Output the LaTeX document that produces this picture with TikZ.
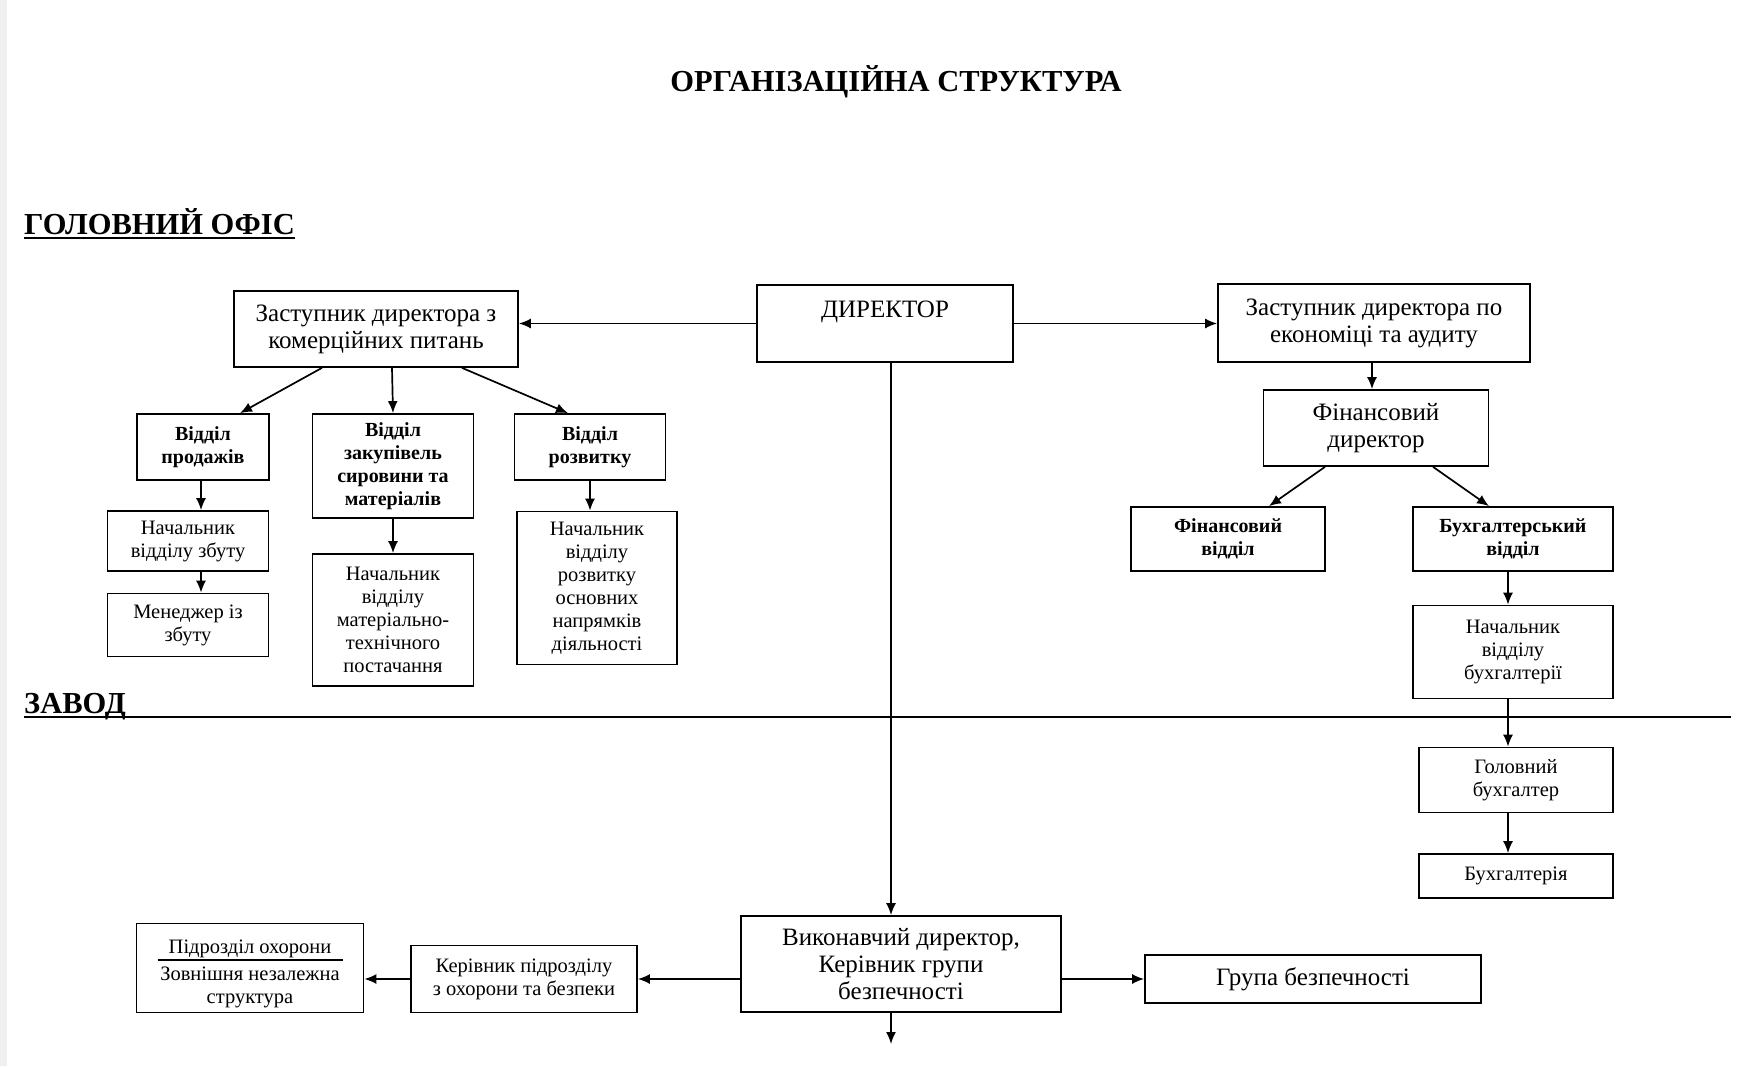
\documentclass[tikz,border=0pt]{standalone}
\usepackage{fontspec}
\setmainfont{Liberation Serif}
\usetikzlibrary{shapes,arrows.meta,positioning}
\tikzstyle{block} = [rectangle, draw, line width=1.7pt, text centered, align=center, inner sep=4pt]
\tikzstyle{big} = [font=\fontsize{25}{27}\selectfont]
\tikzstyle{small} = [font=\fontsize{20.5}{23}\selectfont]
\tikzstyle{smallb} = [font=\bfseries\fontsize{20}{23}\selectfont]
\tikzstyle{head} = [font=\bfseries\fontsize{30.5}{31}\selectfont, inner sep=0pt, anchor=base west]
\tikzstyle{line} = [draw, line width=1.7pt, -{Latex[length=12pt,width=10pt]}]

\begin{document}
\begin{tikzpicture}[x=1pt,y=-1pt]
\fill[black!6] (0,0) rectangle (7,1066);
\useasboundingbox (0,0) rectangle (1742,1066);

\node[font=\bfseries\fontsize{30.5}{31}\selectfont, anchor=base] (title) at (896,91) {ОРГАНІЗАЦІЙНА СТРУКТУРА};
\node[head] (office) at (24,234) {ГОЛОВНИЙ ОФІС};
\draw[line width=2.5pt] ([yshift=-4pt]office.base west) -- ([yshift=-4pt]office.base east);
\node[head] (plant) at (24,713) {ЗАВОД};
\draw[line width=1.8pt] ([yshift=-4pt]plant.base west) -- ([yshift=-4pt]plant.base east) -- (1731,717);

% head office
\node [block, big, minimum width=256, minimum height=77, text height=28pt, text depth=41pt] (dir) at (885,323.5) {ДИРЕКТОР};
\node [block, big, minimum width=284, minimum height=76] (zk) at (376,329) {Заступник директора з\\комерційних питань};
\node [block, big, minimum width=312, minimum height=78] (ze) at (1374,323) {Заступник директора по\\економіці та аудиту};
\path [line] (dir.west) -- (dir.west -| zk.east);
\path [line] (dir.east) -- (dir.east -| ze.west);

\node [block, smallb, minimum width=132, minimum height=66] (sales) at (203,447) {Відділ\\продажів};
\node [block, smallb, minimum width=161, minimum height=104] (purch) at (393,466) {Відділ\\закупівель\\сировини та\\матеріалів};
\node [block, smallb, minimum width=151, minimum height=66] (dev) at (590,447) {Відділ\\розвитку};
\path [line] ([xshift=-54pt]zk.south) -- ([xshift=37pt]sales.north);
\path [line] ([xshift=16pt]zk.south) -- (purch.north);
\path [line] ([xshift=86pt]zk.south) -- ([xshift=-22pt]dev.north);

\node [block, small, minimum width=161, minimum height=60] (salesHead) at (188,541) {Начальник\\відділу збуту};
\node [block, small, minimum width=161, minimum height=63] (salesMgr) at (188,625) {Менеджер із\\збуту};
\node [block, small, minimum width=161, minimum height=132] (supplyHead) at (393,620) {Начальник\\відділу\\матеріально-\\технічного\\постачання};
\node [block, small, minimum width=160, minimum height=153] (devHead) at (597,588) {Начальник\\відділу\\розвитку\\основних\\напрямків\\діяльності};
\path [line] ([xshift=-2pt]sales.south) -- ([xshift=13pt]salesHead.north);
\path [line] ([xshift=13pt]salesHead.south) -- ([xshift=13pt]salesMgr.north);
\path [line] (purch.south) -- (supplyHead.north);
\path [line] (dev.south) -- ([xshift=-7pt]devHead.north);

\node [block, big, minimum width=225, minimum height=76] (finDir) at (1376,428) {Фінансовий\\директор};
\path [line] ([xshift=-2pt]ze.south) -- ([xshift=-4pt]finDir.north);
\node [block, smallb, minimum width=194, minimum height=64] (finDep) at (1228,539) {Фінансовий\\відділ};
\node [block, smallb, minimum width=200, minimum height=64] (accDep) at (1513,539) {Бухгалтерський\\відділ};
\path [line] ([xshift=-51pt]finDir.south) -- ([xshift=41pt]finDep.north);
\path [line] ([xshift=57pt]finDir.south) -- ([xshift=-24pt]accDep.north);

\node [block, small, minimum width=200, minimum height=93] (accHead) at (1513,652) {Начальник\\відділу\\бухгалтерії};
\node [block, small, minimum width=194, minimum height=65] (chiefAcc) at (1516,780) {Головний\\бухгалтер};
\node [block, small, minimum width=194, minimum height=44] (acc) at (1516,876) {Бухгалтерія};
\path [line] ([xshift=-5pt]accDep.south) -- ([xshift=-5pt]accHead.north);
\path [line] ([xshift=-5pt]accHead.south) -- ([xshift=-8pt]chiefAcc.north);
\path [line] ([xshift=-8pt]chiefAcc.south) -- ([xshift=-8pt]acc.north);

% plant
\node [block, big, minimum width=320, minimum height=96] (exec) at (901,964) {Виконавчий директор,\\Керівник групи\\безпечності};
\path [line] ([xshift=6pt]dir.south) -- ([xshift=-10pt]exec.north);
\coordinate (down) at (891,1044);
\path [line] ([xshift=-10pt]exec.south) -- (down);

\node [block, big, minimum width=336, minimum height=48] (secGroup) at (1313,979) {Група безпечності};
\node [block, small, minimum width=226, minimum height=67] (guardHead) at (524,979) {Керівник підрозділу\\з охорони та безпеки};
\node [block, small, minimum width=227, minimum height=89] (guard) at (250,968) {\rule{0pt}{26pt}Підрозділ охорони\\[-16pt]\rule{185pt}{1.4pt}\\[-3pt]Зовнішня незалежна\\структура};
\path [line] (exec.east |- secGroup.west) -- (secGroup.west);
\path [line] (exec.west |- guardHead.east) -- (guardHead.east);
\path [line] (guardHead.west) -- (guardHead.west -| guard.east);
\end{tikzpicture}
\end{document}
